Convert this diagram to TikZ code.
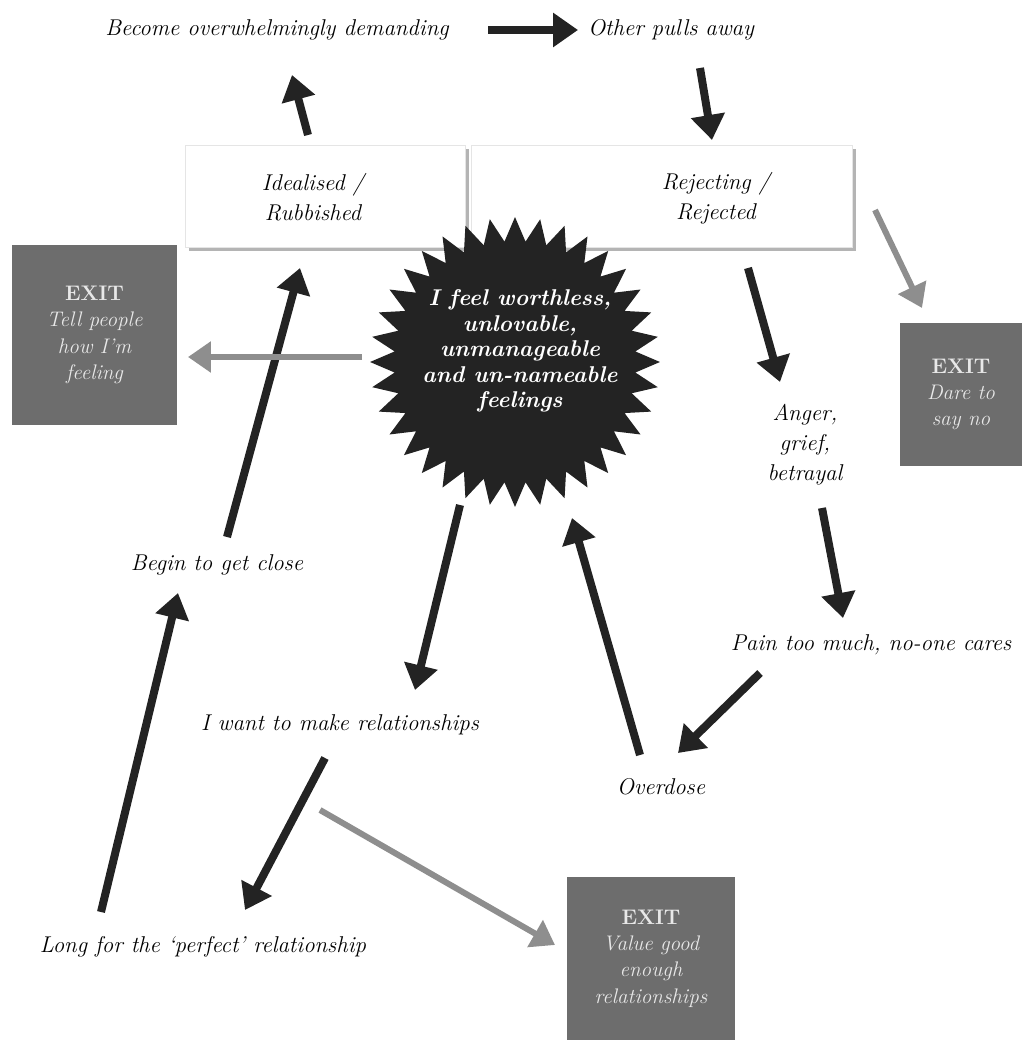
\documentclass[tikz,border=0pt]{standalone}
\usepackage{tikz}
\usetikzlibrary{arrows.meta,calc,shapes.geometric,shadows}
\definecolor{inkdark}{HTML}{232323}
\definecolor{inkgrey}{HTML}{8E8E8E}
\definecolor{exitgrey}{HTML}{6D6D6D}
\definecolor{exittext}{HTML}{E8E8E8}
\definecolor{shadowgrey}{HTML}{B4B4B4}

\begin{document}
\begin{tikzpicture}[x=0.02cm,y=-0.02cm,
  lbl/.style={font=\fontsize{13}{17}\selectfont\itshape,align=center,inner sep=0pt},
  panel/.style={rectangle,fill=white,draw=black!10,line width=0.4pt,
    drop shadow={shadow xshift=0.08cm,shadow yshift=-0.08cm,fill=shadowgrey,opacity=1}},
  exitbox/.style={rectangle,fill=exitgrey,text=exittext,align=center,inner sep=0pt,
    font=\fontsize{12}{15}\selectfont\itshape},
  burst/.style={star,star points=36,star point ratio=1.2,fill=inkdark,
    minimum size=5.8cm,inner sep=0pt},
  bursttext/.style={text=white,align=center,inner sep=0pt,xshift=0.1cm,yshift=0.22cm,
    font=\fontsize{13}{14.5}\selectfont\bfseries\itshape},
  arr/.style={-{Triangle[length=0.5cm,width=0.66cm]},line width=0.16cm,color=inkdark},
  exitarr/.style={-{Triangle[length=0.46cm,width=0.6cm]},line width=0.12cm,color=inkgrey}]
  \useasboundingbox (0,0) rectangle (1026,1047);

  % the two halves of the relationship
  \node[panel,minimum width=5.6cm,minimum height=2.04cm] (idealbox) at (325,196) {};
  \node[panel,minimum width=7.62cm,minimum height=2.04cm] (rejectbox) at (662,196) {};
  \node[lbl] (idealised) at (313,197) {Idealised /\\Rubbished};
  \node[lbl] (rejecting) at (716,198) {Rejecting /\\Rejected};

  % core feeling
  \node[burst,label={[bursttext]center:I feel worthless,\\unlovable,\\unmanageable\\and un-nameable\\feelings}]
    (core) at (515,362) {};

  % steps round the cycle
  \node[lbl] (become) at (277,30) {Become overwhelmingly demanding};
  \node[lbl] (other) at (671,30) {Other pulls away};
  \node[lbl] (anger) at (805,445) {Anger,\\grief,\\betrayal};
  \node[lbl] (pain) at (871,645) {Pain too much, no-one cares};
  \node[lbl] (overdose) at (661,787) {Overdose};
  \node[lbl] (iwant) at (340,725) {I want to make relationships};
  \node[lbl] (longfor) at (203,947) {Long for the `perfect' relationship};
  \node[lbl] (begin) at (217,565) {Begin to get close};

  % ways out
  \node[exitbox,minimum width=3.3cm,minimum height=3.6cm] (exitleft) at (94.5,335)
    {{\upshape\bfseries\large EXIT}\\Tell people\\how I'm\\feeling};
  \node[exitbox,minimum width=2.44cm,minimum height=2.86cm] (exitright) at (961,394.5)
    {{\upshape\bfseries\large EXIT}\\Dare to\\say no};
  \node[exitbox,minimum width=3.36cm,minimum height=3.26cm] (exitbottom) at (651,958.5)
    {{\upshape\bfseries\large EXIT}\\Value good\\enough\\relationships};

  % the cycle
  \draw[arr] ($(idealised)+(-5,-62)$) -- ($(become)+(15,45)$);
  \draw[arr] ($(become)+(211,0)$) -- ($(other)+(-93,0)$);
  \draw[arr] ($(other)+(29,38)$) -- ($(rejecting)+(-4,-58)$);
  \draw[arr] ($(rejecting)+(32,70)$) -- ($(anger)+(-25,-63)$);
  \draw[arr] ($(anger)+(17,63)$) -- ($(pain)+(-28,-27)$);
  \draw[arr] ($(pain)+(-111,28)$) -- ($(overdose)+(17,-34)$);
  \draw[arr] ($(overdose)+(-21,-32)$) -- ($(core)+(57,156)$);
  \draw[arr] ($(core)+(-55,143)$) -- ($(iwant)+(75,-35)$);
  \draw[arr] ($(iwant)+(-15,33)$) -- ($(longfor)+(42,-37)$);
  \draw[arr] ($(longfor)+(-102,-35)$) -- ($(begin)+(-39,28)$);
  \draw[arr] ($(begin)+(10,-28)$) -- ($(idealised)+(-13,71)$);

  % exits
  \draw[exitarr] ($(core)+(-153,-5)$) -- ($(exitleft)+(93.5,22)$);
  \draw[exitarr] ($(rejecting)+(159,12)$) -- ($(exitright)+(-39,-86.5)$);
  \draw[exitarr] ($(iwant)+(-20,85)$) -- ($(exitbottom)+(-96,-13.5)$);
\end{tikzpicture}
\end{document}
